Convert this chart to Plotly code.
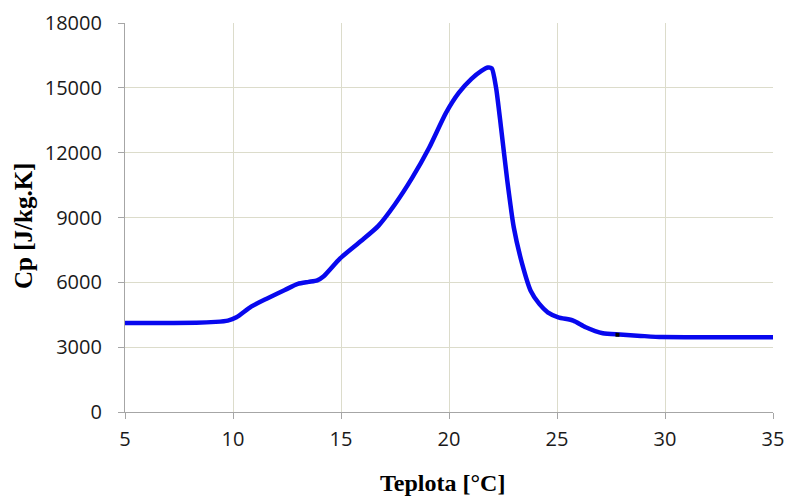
import plotly.graph_objects as go

# Temperature [°C] and specific heat capacity Cp [J/kg.K]
teplota = [5, 6, 7, 8.3, 9.2, 9.76, 10.16, 10.84, 11.63, 12.4, 13.0, 13.5, 13.9, 14.2,
           14.96, 15.94, 16.73, 17.5, 18.3, 19.08, 19.86, 20.45, 21.04, 21.5, 21.8, 21.98,
           22.18, 22.41, 22.7, 23.0, 23.39, 23.78, 24.18, 24.57, 25.06, 25.75, 26.33,
           27.12, 27.9, 28.88, 29.86, 32, 35]
cp = [4120, 4120, 4120, 4125, 4170, 4230, 4380, 4876, 5276, 5645, 5930, 6020, 6090, 6280,
      7107, 7921, 8614, 9613, 10843, 12227, 13842, 14765, 15411, 15780, 15940, 15900,
      15000, 13150, 10690, 8536, 6844, 5614, 5000, 4614, 4384, 4230, 3922,
      3645, 3584, 3522, 3465, 3460, 3460]

marker_x = [27.8]
marker_y = [3575]

x_ticks = [5, 10, 15, 20, 25, 30, 35]
y_ticks = [0, 3000, 6000, 9000, 12000, 15000, 18000]

grid_col = "#dcdccb"
axis_col = "#a6a6a6"

W, H = 786, 499
PL, PR, PT, PB = 125, 773, 23, 412   # plot area in window pixels

fig = go.Figure()
fig.add_trace(go.Scatter(
    x=teplota, y=cp, mode="lines",
    line=dict(color="#0808ee", width=4.5, shape="spline", smoothing=0.6),
    showlegend=False, hoverinfo="x+y"))
fig.add_trace(go.Scatter(
    x=marker_x, y=marker_y, mode="markers",
    marker=dict(color="black", size=4, symbol="square"),
    showlegend=False))

fig.update_layout(
    width=W, height=H,
    margin=dict(l=PL, r=W - PR, t=PT, b=H - PB, pad=0, autoexpand=False),
    paper_bgcolor="white", plot_bgcolor="white",
    font=dict(family="Open Sans", size=20, color="#1a1a1a"),
    xaxis=dict(range=[5, 35], tickvals=x_ticks, ticktext=[str(v) for v in x_ticks],
               showgrid=True, gridcolor=grid_col, gridwidth=1.2,
               showline=True, linecolor=axis_col, linewidth=1.2,
               ticks="outside", ticklen=6, tickcolor=axis_col,
               zeroline=False, ticklabelstandoff=3, automargin=False,
               ticklabeloverflow="allow",
               tickfont=dict(family="Open Sans", size=20, color="#1a1a1a")),
    yaxis=dict(range=[0, 18000], tickvals=y_ticks, ticktext=[str(v) for v in y_ticks],
               showgrid=True, gridcolor=grid_col, gridwidth=1.2,
               showline=True, linecolor=axis_col, linewidth=1.2,
               ticks="outside", ticklen=6, tickcolor=axis_col,
               zeroline=False, ticklabelstandoff=12, automargin=False,
               tickfont=dict(family="Open Sans", size=20, color="#1a1a1a")),
)

pw, ph = PR - PL, PB - PT
def paper_xy(px, py):
    return (px - PL) / pw, 1 - (py - PT) / ph

ax, ay = paper_xy(442, 483)
bx, by = paper_xy(23, 226)
fig.add_annotation(text="<b>Teplota [°C]</b>", x=ax, y=ay, xref="paper", yref="paper",
                   xanchor="center", yanchor="middle", showarrow=False,
                   font=dict(family="Liberation Serif", size=24, color="black"))
fig.add_annotation(text="<b>Cp [J/kg.K]</b>", x=bx, y=by, xref="paper", yref="paper",
                   xanchor="center", yanchor="middle", showarrow=False, textangle=-90,
                   font=dict(family="Liberation Serif", size=25, color="black"))

fig.write_html(
    "out.html",
    config={"displayModeBar": False},
    post_script="document.body.style.margin='0';document.body.style.overflow='hidden';",
)
